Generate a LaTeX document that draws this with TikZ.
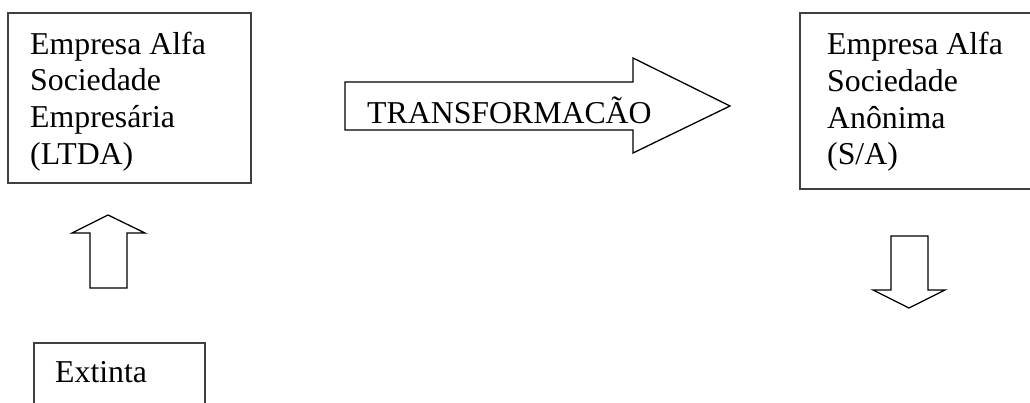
\documentclass[tikz,border=0pt]{standalone}
\usepackage{fontspec}
\setmainfont{Liberation Serif}
\begin{document}
\begin{tikzpicture}[x=1pt,y=-1pt,
  box/.style={draw=black!75,line width=1.4pt},
  blockarrow/.style={draw=black,line width=1.3pt,line join=miter,fill=white},
  label/.style={inner sep=0pt,anchor=north west,align=left,
    font=\fontsize{31.8}{36.7}\selectfont}]
\useasboundingbox (0,0) rectangle (1030,403);
\clip (0,0) rectangle (1030,403);

% company boxes
\draw[box] (8,13) rectangle (251,183);
\draw[box] (800,13) rectangle (1040,189);
\draw[box] (34,343) rectangle (205,420);

% box texts
\node[label] (ltda) at (30,31.6) {Empresa Alfa\\Sociedade\\Empresária\\(LTDA)};
\node[label] (sa) at (827,32.3) {Empresa Alfa\\Sociedade\\Anônima\\(S/A)};
\node[label] (extinta) at (55,361.3) {Extinta};

% transformation arrow
\draw[blockarrow] (345,82) -- (633,82) -- (633,58) -- (730,106)
  -- (633,153) -- (633,130) -- (345,130) -- cycle;
\node[inner sep=0pt,anchor=base west,font=\fontsize{31.8}{36.7}\selectfont]
  (transf) at (367,123.3) {TRANSFORMACÃO};

% upward arrow from the extinct company
\draw[blockarrow] (90,288) -- (90,233) -- (72,233) -- (108,215)
  -- (145,233) -- (127,233) -- (127,288) -- cycle;

% downward arrow below the S/A
\draw[blockarrow] (891,236) -- (928,236) -- (928,290) -- (945,290)
  -- (909,308) -- (873,290) -- (891,290) -- cycle;
\end{tikzpicture}
\end{document}
